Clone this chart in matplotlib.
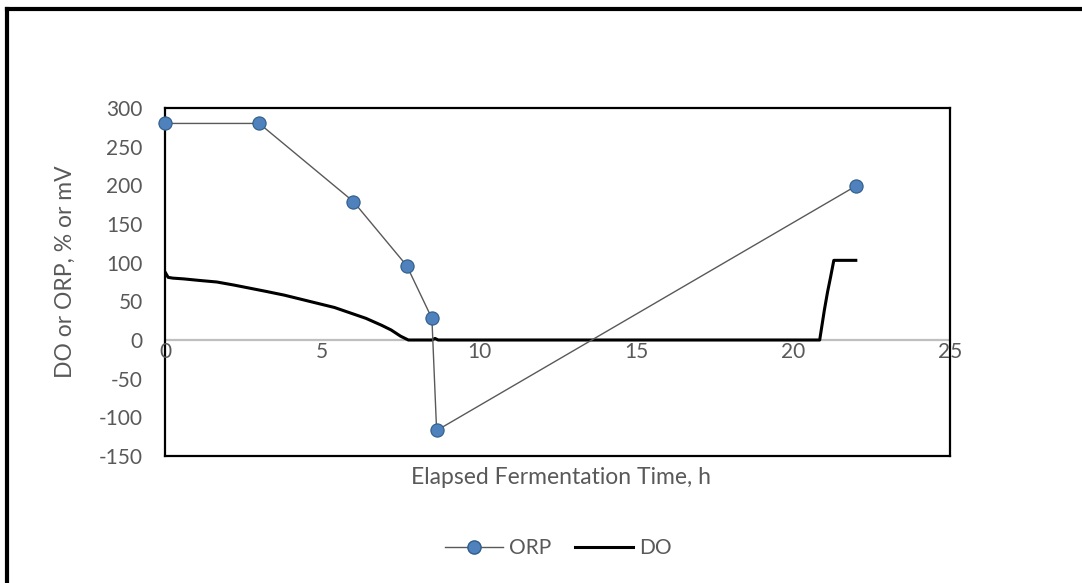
import numpy as np
import matplotlib.pyplot as plt
from matplotlib.lines import Line2D

# ORP readings (mV)
orp_t = [0, 3, 6, 7.7, 8.5, 8.65, 22]
orp_v = [280, 280, 179, 96, 28, -117, 199]

# DO trace (%)
do_t = [0, 0.1, 0.25, 0.6, 1.1, 1.65, 2.2, 2.7, 3.2, 3.8, 4.3, 4.8, 5.4, 5.9,
        6.4, 6.9, 7.2, 7.5, 7.75, 8.5, 8.6, 8.7, 12, 16, 20.85, 21.0, 21.1,
        21.2, 21.3, 22.0]
do_v = [88, 81, 80, 79, 77, 75, 71, 67, 63, 58, 53, 48, 42, 35,
        28, 19, 13, 5, 0, 0, 2, 0, 0, 0, 0, 39, 62, 82, 103, 103]

xticks = [0, 5, 10, 15, 20, 25]
yticks = [-150, -100, -50, 0, 50, 100, 150, 200, 250, 300]

def main():
    plt.rcParams['font.family'] = ['Lato', 'DejaVu Sans']
    plt.rcParams['axes.unicode_minus'] = False
    grey = '#595959'
    fs = 15
    fs_lab = 16.5

    fig = plt.figure(figsize=(10.82, 5.83), dpi=100)
    ax = fig.add_axes([0.1525, 0.2178, 0.7255, 0.597])

    ax.axhline(0, color='#BFBFBF', lw=1.6, zorder=1)
    ax.plot(do_t, do_v, color='black', lw=2.2, zorder=2, label='DO')
    ax.plot(orp_t, orp_v, color='#595959', lw=1.0, marker='o', markersize=9.5,
            markerfacecolor='#4F81BD', markeredgecolor='#2E5C8A', markeredgewidth=0.8,
            zorder=3, label='ORP', clip_on=False)

    ax.set_xlim(0, 25)
    ax.set_ylim(-150, 300)
    ax.set_yticks(yticks)
    ax.set_xticks(xticks)
    ax.tick_params(length=0, labelsize=fs, colors=grey)
    ax.tick_params(axis='y', pad=16)
    ax.set_xticklabels([])
    for spine in ax.spines.values():
        spine.set_color('black')
        spine.set_linewidth(1.6)

    # x tick labels sit just under the zero line, Excel style
    for t in xticks:
        ax.text(t, -16, str(t), ha='center', va='center', fontsize=fs, color=grey)

    ax.text(-0.127, 0.53, 'DO or ORP, % or mV', transform=ax.transAxes, rotation=90,
            ha='center', va='center', fontsize=fs_lab, color=grey)
    ax.text(0.504, -0.063, 'Elapsed Fermentation Time, h', transform=ax.transAxes,
            ha='center', va='center', fontsize=fs_lab, color=grey)

    handles = [
        Line2D([], [], color='#595959', lw=1.0, marker='o', markersize=9.5,
               markerfacecolor='#4F81BD', markeredgecolor='#2E5C8A'),
        Line2D([], [], color='black', lw=2.2),
    ]
    fig.legend(handles, ['ORP', 'DO'], loc='center', bbox_to_anchor=(0.516, 0.06),
               ncol=2, frameon=False, fontsize=15, labelcolor=grey,
               handlelength=2.8, columnspacing=1.1, handletextpad=0.3)

    # outer frame (only top and left visible in the crop)
    fig.add_artist(Line2D([0.0065, 1.0], [0.984, 0.984], color='black', lw=3,
                          transform=fig.transFigure))
    fig.add_artist(Line2D([0.0065, 0.0065], [0.0, 0.984], color='black', lw=3,
                          transform=fig.transFigure))

    fig.savefig('out.png', dpi=100)

if __name__ == '__main__':
    main()
